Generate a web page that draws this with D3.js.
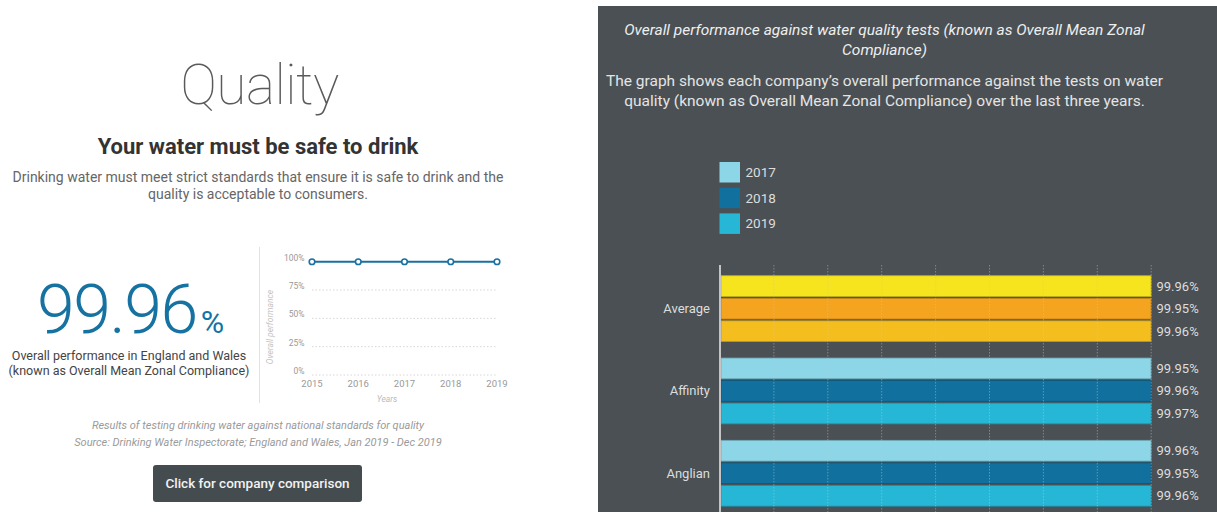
<!DOCTYPE html>
<html><head><meta charset="utf-8">
<script src="https://cdn.jsdelivr.net/npm/d3@7"></script>
<style>
html,body{margin:0;padding:0;background:#fff;overflow:hidden}
svg{display:block;font-family:Roboto,"Noto Sans",sans-serif}
</style></head><body>
<svg id="c" width="1217" height="512"></svg>
<script>
// ---- data ----
const headline = "99.96";
const lineYears = ["2015","2016","2017","2018","2019"];
const lineValues = [99.96, 99.96, 99.96, 99.95, 99.96];
const lineTicks = [0, 25, 50, 75, 100];
const companies = ["Average", "Affinity", "Anglian"];
const barYears = ["2017", "2018", "2019"];
const values2017 = [99.96, 99.95, 99.96];
const values2018 = [99.95, 99.96, 99.95];
const values2019 = [99.96, 99.97, 99.96];
const blueColors = ["#8dd6e7", "#11709e", "#27b7d6"];
const avgColors = ["#f6e41e", "#f4a41e", "#f5be1f"];

const svg = d3.select("#c");

// ---------- LEFT PANEL ----------
const L = svg.append("g");
L.append("text").attr("x", 259.5).attr("y", 103.5).attr("text-anchor", "middle")
  .attr("font-size", 55).attr("font-weight", 100).attr("letter-spacing", -0.5).attr("fill", "#5a5a5a").text("Quality");
L.append("text").attr("x", 258).attr("y", 154).attr("text-anchor", "middle")
  .attr("font-size", 22).attr("font-weight", 700).attr("fill", "#333").text("Your water must be safe to drink");
const sub = ["Drinking water must meet strict standards that ensure it is safe to drink and the",
             "quality is acceptable to consumers."];
sub.forEach((t, i) => L.append("text").attr("x", 258).attr("y", 181.5 + i * 17).attr("text-anchor", "middle")
  .attr("font-size", 14).attr("fill", "#666").text(t));

const big = L.append("text").attr("x", 37).attr("y", 332.7).attr("font-size", 68)
  .attr("font-weight", 300).attr("letter-spacing", -1.5).attr("fill", "#1572a1");
big.append("tspan").text(headline);
big.append("tspan").attr("font-size", 32).attr("font-weight", 400).attr("dx", 4).attr("letter-spacing", 0).text("%");
["Overall performance in England and Wales", "(known as Overall Mean Zonal Compliance)"]
  .forEach((t, i) => L.append("text").attr("x", 129).attr("y", 360 + i * 14.5).attr("text-anchor", "middle")
    .attr("font-size", 12.5).attr("fill", "#444").text(t));

// divider
L.append("line").attr("x1", 259.5).attr("x2", 259.5).attr("y1", 247).attr("y2", 403)
  .attr("stroke", "#e2e2e2").attr("stroke-width", 1);

// small line chart
const lx = d3.scalePoint().domain(lineYears).range([312, 497]);
const ly = d3.scaleLinear().domain([0, 100]).range([375, 261.7]);
const lg = L.append("g");
lg.selectAll("line.g").data(lineTicks.filter(d => d < 100)).join("line")
  .attr("x1", 312).attr("x2", 497).attr("y1", d => ly(d)).attr("y2", d => ly(d))
  .attr("stroke", "#d6d6d6").attr("stroke-dasharray", "1.5,2");
lg.selectAll("text.yt").data(lineTicks).join("text")
  .attr("x", 304.5).attr("y", d => ly(d) - 1).attr("text-anchor", "end")
  .attr("font-size", 8.5).attr("fill", "#999").text(d => d + "%");
lg.selectAll("text.xt").data(lineYears).join("text")
  .attr("x", d => lx(d)).attr("y", 386.5).attr("text-anchor", "middle")
  .attr("font-size", 9.5).attr("fill", "#999").text(d => d);
lg.append("text").attr("x", 387).attr("y", 402).attr("text-anchor", "middle")
  .attr("font-size", 8.5).attr("font-style", "italic").attr("fill", "#bbb").text("Years");
lg.append("text").attr("transform", "translate(273,327) rotate(-90)").attr("text-anchor", "middle")
  .attr("font-size", 8.5).attr("font-style", "italic").attr("fill", "#c4c4c4").text("Overall performance");
lg.append("path").datum(lineValues.map((v, i) => [lineYears[i], v]))
  .attr("d", d3.line().x(d => lx(d[0])).y(d => ly(d[1])))
  .attr("fill", "none").attr("stroke", "#1a70a1").attr("stroke-width", 2);
lg.selectAll("circle").data(lineValues.map((v, i) => [lineYears[i], v])).join("circle")
  .attr("cx", d => lx(d[0])).attr("cy", d => ly(d[1])).attr("r", 2.8)
  .attr("fill", "#fff").attr("stroke", "#1a70a1").attr("stroke-width", 1.6);

["Results of testing drinking water against national standards for quality",
 "Source: Drinking Water Inspectorate; England and Wales, Jan 2019 - Dec 2019"]
  .forEach((t, i) => L.append("text").attr("x", 258).attr("y", 429 + i * 17.3).attr("text-anchor", "middle")
    .attr("font-size", 11).attr("font-style", "italic").attr("fill", "#9a9a9a").text(t));

L.append("rect").attr("x", 153).attr("y", 465).attr("width", 209).attr("height", 37).attr("rx", 3)
  .attr("fill", "#454c50");
L.append("text").attr("x", 257.5).attr("y", 488).attr("text-anchor", "middle")
  .attr("font-size", 13.5).attr("font-weight", 500).attr("fill", "#f2f2f2").text("Click for company comparison");

// ---------- RIGHT PANEL ----------
const R = svg.append("g");
R.append("rect").attr("x", 598).attr("y", 6).attr("width", 619).attr("height", 506).attr("fill", "#4a5054");
["Overall performance against water quality tests (known as Overall Mean Zonal", "Compliance)"]
  .forEach((t, i) => R.append("text").attr("x", 884.5).attr("y", 34.5 + i * 20).attr("text-anchor", "middle")
    .attr("font-size", 15.5).attr("font-style", "italic").attr("fill", "#eeeeee").text(t));
["The graph shows each company\u2019s overall performance against the tests on water",
 "quality (known as Overall Mean Zonal Compliance) over the last three years."]
  .forEach((t, i) => R.append("text").attr("x", 884.5).attr("y", 86 + i * 20).attr("text-anchor", "middle")
    .attr("font-size", 15.5).attr("fill", "#e4e4e4").text(t));

// legend
const leg = R.selectAll("g.leg").data(barYears).join("g")
  .attr("transform", (d, i) => `translate(719.5,${162 + i * 25.7})`);
leg.append("rect").attr("width", 20.5).attr("height", 20.5).attr("fill", (d, i) => blueColors[i]);
leg.append("text").attr("x", 26).attr("y", 15).attr("font-size", 13.5).attr("fill", "#dddddd").text(d => d);

// bars
const series = [values2017, values2018, values2019];
const x = d3.scaleLinear().domain([0, 100]).range([720, 1151.2]);
const y0 = d3.scaleBand().domain(companies).range([267.5, 267.5 + 3 * 82.3]).paddingInner(0.2).paddingOuter(0.1);
const y1 = d3.scaleBand().domain(barYears).range([0, y0.bandwidth()]).paddingInner(0.08);

const groups = R.selectAll("g.grp").data(companies).join("g")
  .attr("transform", d => `translate(0,${y0(d)})`);
groups.each(function (c, ci) {
  const g = d3.select(this);
  const data = barYears.map((yr, j) => ({ yr, v: series[j][ci], col: (c === "Average" ? avgColors : blueColors)[j] }));
  g.selectAll("rect").data(data).join("rect")
    .attr("x", x(0) + 1).attr("y", d => y1(d.yr))
    .attr("width", d => x(d.v) - x(0) - 1).attr("height", y1.bandwidth())
    .attr("fill", d => d.col).attr("stroke", d => d3.color(d.col).darker(0.7)).attr("stroke-width", 0.8);
  g.selectAll("text.val").data(data).join("text").attr("class", "val")
    .attr("x", 1156.5).attr("y", d => y1(d.yr) + y1.bandwidth() / 2 + 4.5)
    .attr("font-size", 13).attr("fill", "#dddddd").text(d => d.v.toFixed(2) + "%");
  g.append("text").attr("x", 710).attr("y", y0.bandwidth() / 2 + 4.5).attr("text-anchor", "end")
    .attr("font-size", 13).attr("fill", "#dddddd").text(c);
});

// grid on top
R.selectAll("line.grid").data(d3.range(12.5, 100.1, 12.5)).join("line")
  .attr("x1", d => x(d)).attr("x2", d => x(d)).attr("y1", 265).attr("y2", 512)
  .attr("stroke", "rgba(200,200,200,0.45)").attr("stroke-dasharray", "1.5,1.5");
R.append("line").attr("x1", 720).attr("x2", 720).attr("y1", 265).attr("y2", 512)
  .attr("stroke", "#c4c4c4").attr("stroke-width", 2);
</script></body></html>
